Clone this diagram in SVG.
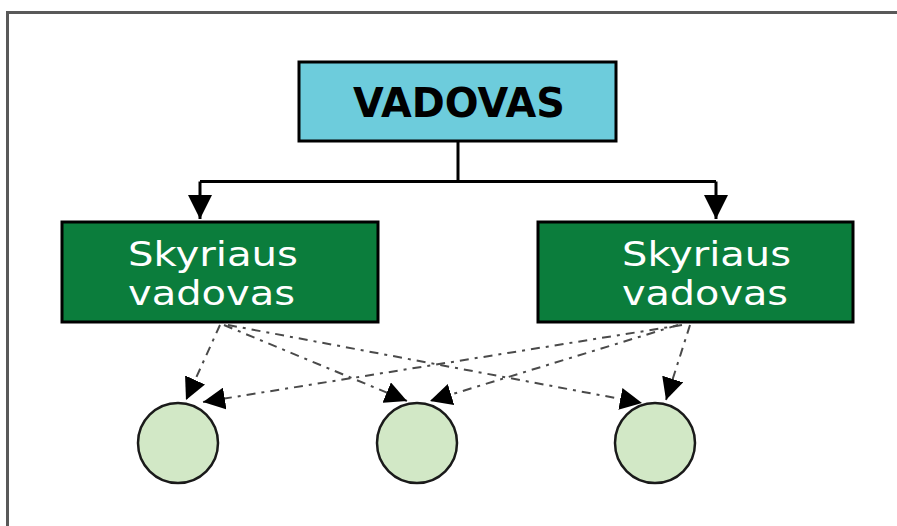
<svg xmlns="http://www.w3.org/2000/svg" width="897" height="526" viewBox="0 0 897 526">
  <style>
    .frame { fill: none; stroke: #595959; stroke-width: 3; }
    .boss { fill: #6dccdc; stroke: #000; stroke-width: 3; }
    .dept { fill: #0b7d3c; stroke: #000; stroke-width: 3; }
    .worker { fill: #d2e8c6; stroke: #1a1a1a; stroke-width: 2.5; }
    .solid { fill: none; stroke: #000; stroke-width: 3; }
    .dash { fill: none; stroke: #4a4a4a; stroke-width: 2; stroke-dasharray: 9 6 3 6; }
    .title { font-family: "DejaVu Sans", "Liberation Sans", sans-serif; font-weight: bold; font-size: 40px; fill: #000; }
    .label { font-family: "DejaVu Sans", "Liberation Sans", sans-serif; font-size: 34px; fill: #fff; }
  </style>
  <defs>
    <marker id="head" viewBox="0 0 10 10" refX="10" refY="5" markerWidth="24" markerHeight="24" markerUnits="userSpaceOnUse" orient="auto">
      <path d="M0,0 L10,5 L0,10 z" fill="#000"/>
    </marker>
    <marker id="headSmall" viewBox="0 0 10 10" refX="10" refY="5" markerWidth="22" markerHeight="22" markerUnits="userSpaceOnUse" orient="auto">
      <path d="M0,0 L10,5 L0,10 z" fill="#000"/>
    </marker>
  </defs>

  <rect class="frame" x="7.5" y="12.5" width="1000" height="1000"/>

  <g id="connectors">
    <polyline class="solid" points="458,142 458,181.5"/>
    <polyline class="solid" points="200,181.5 716,181.5"/>
    <line class="solid" x1="200" y1="181.5" x2="200" y2="219" marker-end="url(#head)"/>
    <line class="solid" x1="716" y1="181.5" x2="716" y2="219" marker-end="url(#head)"/>

    <line class="dash" x1="220" y1="325" x2="186" y2="400" marker-end="url(#headSmall)"/>
    <line class="dash" x1="682" y1="325" x2="203" y2="402" marker-end="url(#headSmall)"/>
    <line class="dash" x1="224" y1="325" x2="407" y2="401" marker-end="url(#headSmall)"/>
    <line class="dash" x1="678" y1="325" x2="430" y2="401" marker-end="url(#headSmall)"/>
    <line class="dash" x1="228" y1="325" x2="642" y2="403" marker-end="url(#headSmall)"/>
    <line class="dash" x1="690" y1="325" x2="666" y2="400" marker-end="url(#headSmall)"/>
  </g>

  <g id="vadovas">
    <rect class="boss" x="299" y="62" width="317" height="79"/>
    <text class="title" x="353" y="117" textLength="212" lengthAdjust="spacingAndGlyphs">VADOVAS</text>
  </g>

  <g id="skyrius-1">
    <rect class="dept" x="62" y="222" width="316" height="100"/>
    <text class="label" x="128" y="266" textLength="170" lengthAdjust="spacingAndGlyphs">Skyriaus</text>
    <text class="label" x="128" y="305" textLength="167" lengthAdjust="spacingAndGlyphs">vadovas</text>
  </g>

  <g id="skyrius-2">
    <rect class="dept" x="538" y="222" width="315" height="100"/>
    <text class="label" x="622" y="266" textLength="169" lengthAdjust="spacingAndGlyphs">Skyriaus</text>
    <text class="label" x="622" y="305" textLength="166" lengthAdjust="spacingAndGlyphs">vadovas</text>
  </g>

  <g id="darbuotojas-1">
    <circle class="worker" cx="178" cy="443" r="40"/>
  </g>
  <g id="darbuotojas-2">
    <circle class="worker" cx="417" cy="443" r="40"/>
  </g>
  <g id="darbuotojas-3">
    <circle class="worker" cx="655" cy="443" r="40"/>
  </g>
</svg>
